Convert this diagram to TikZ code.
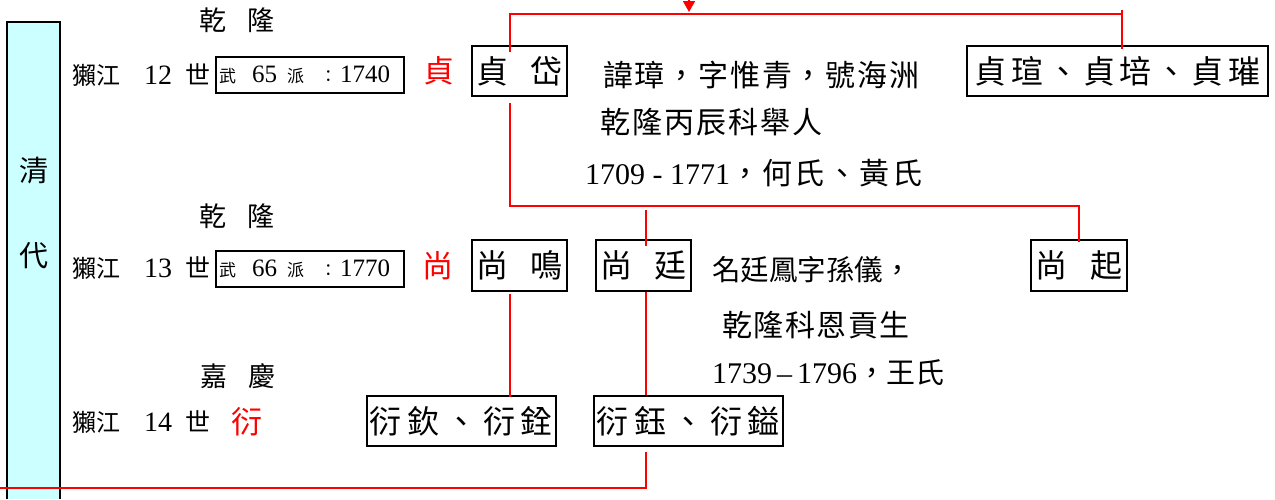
\documentclass[tikz,border=0pt]{standalone}
\usepackage{fontspec}
\setmainfont{Liberation Serif}
\newfontfamily\cjk{Noto Sans CJK TC}
\usetikzlibrary{arrows.meta,calc}
\newcommand{\myfs}[1]{\fontsize{#1}{#1}\selectfont}
\newcommand{\genlabel}[1]{{\cjk\myfs{24}獺江}\hspace{24pt}{\myfs{28}#1}\hspace{13pt}{\cjk\myfs{25}世}}
\newcommand{\paibox}[2]{\makebox[184pt][l]{\hspace{1pt}{\cjk\myfs{17}武}\hspace{16pt}{\myfs{25}#1}\hspace{10pt}{\cjk\myfs{17}派}\hspace{16pt}{\cjk\myfs{17}：}\hspace{3pt}{\myfs{25}#2}}}
\definecolor{barfill}{HTML}{CCFFFF}
\begin{document}
\begin{tikzpicture}[x=1pt,y=-1pt,
  box/.style={draw=black, line width=2pt, inner sep=0pt, font=\cjk\myfs{32}},
  pbox/.style={draw=black, line width=2pt, inner sep=1pt, minimum width=188pt, minimum height=36pt},
  redch/.style={text=red, font=\cjk\myfs{31}, inner sep=0pt},
  era/.style={font=\cjk\myfs{27}, inner sep=0pt},
  lbl/.style={anchor=west, inner sep=0pt},
  bartext/.style={font=\cjk\myfs{29}, inner sep=0pt},
  rline/.style={draw=red, line width=1.8pt}]
\useasboundingbox (0,0) rectangle (1275,499);
% era bar
\fill[barfill] (7,499) -- (7,22) -- (60,22) -- (60,499) -- cycle;
\draw[line width=2pt] (7,499) -- (7,22) -- (60,22) -- (60,499);
\node[bartext] (qing) at (34,171) {清};
\node[bartext] (dai) at (34,256) {代};
% era names
\node[era] (e1) at (237,20) {乾\hspace{22pt}隆};
\node[era] (e2) at (237,216) {乾\hspace{22pt}隆};
\node[era] (e3) at (238,376) {嘉\hspace{22pt}慶};
% generation labels
\node[lbl] (g12) at (72,75) {\genlabel{12}};
\node[lbl] (g13) at (72,268) {\genlabel{13}};
\node[lbl] (g14) at (72,422) {\genlabel{14}};
\node[pbox] (p65) at (310,75) {\paibox{65}{1740}};
\node[pbox] (p66) at (310,269) {\paibox{66}{1770}};
% red generation characters
\node[redch] (rz) at (439,71) {貞};
\node[redch] (rs) at (438,266) {尚};
\node[redch] (ry) at (247,422) {衍};
% person boxes
\node[box, minimum width=95pt, minimum height=50pt] (zd) at (519.5,71) {貞\hspace{0.7em}岱};
\node[box, minimum width=301pt, minimum height=50pt] (zx) at (1117.5,71) {\addfontfeature{LetterSpace=13}貞瑄、貞培、貞璀};
\node[box, minimum width=95pt, minimum height=51pt] (sm) at (519.5,265.5) {尚\hspace{0.7em}鳴};
\node[box, minimum width=95pt, minimum height=51pt] (st) at (643.5,265.5) {尚\hspace{0.7em}廷};
\node[box, minimum width=96pt, minimum height=51pt] (sq) at (1079,265.5) {尚\hspace{0.7em}起};
\node[box, minimum width=189pt, minimum height=50pt] (yq) at (461.5,421) {\addfontfeature{LetterSpace=18}衍欽、衍銓};
\node[box, minimum width=189pt, minimum height=50pt] (yy) at (688.5,421) {\addfontfeature{LetterSpace=18}衍鈺、衍鎰};
% notes
\node[lbl] (n1) at (603,75) {\cjk\myfs{30}\addfontfeature{LetterSpace=6}諱璋，字惟青，號海洲};
\node[lbl] (n2) at (600,122) {\cjk\myfs{30}\addfontfeature{LetterSpace=7}乾隆丙辰科舉人};
\node[lbl] (n3) at (585,173) {{\myfs{30}1709 - 1771}{\cjk\myfs{30}\addfontfeature{LetterSpace=8}，何氏、黃氏}};
\node[lbl] (n4) at (712,270) {\cjk\myfs{28.5}名廷鳳字孫儀，};
\node[lbl] (n5) at (722,325) {\cjk\myfs{30}\addfontfeature{LetterSpace=5}乾隆科恩貢生};
\node[lbl] (n6) at (712,373) {{\myfs{30}1739\,–\,1796}{\cjk\myfs{29}，王氏}};
% connector coordinates
\coordinate (atop) at (689,0);
\coordinate (ahit) at (689,12);
\coordinate (c1) at (510,14);
\coordinate (c2) at (1122,14);
\coordinate (c2t) at (1122,10);
\coordinate (m1) at (510,206);
\coordinate (m2) at (1079,206);
\coordinate (m3) at (646,206);
\coordinate (b1) at (646,488);
\coordinate (b0) at (0,488);
% connectors
\draw[rline, -{Triangle[length=11pt,width=12pt]}] (atop) -- (ahit);
\draw[rline] ($(zd.north -| c1)+(0,7)$) -- (c1) -- (c2);
\draw[rline] (c2t) -- ($(zx.north -| c2)+(0,4)$);
\draw[rline] ($(zd.south -| m1)+(0,6)$) -- (m1) -- (m2) -- ($(sq.north -| m2)+(0,3)$);
\draw[rline] ($(m3)+(0,4)$) -- ($(st.north -| m3)+(0,7)$);
\draw[rline] ($(sm.south -| m1)+(0,2)$) -- ($(yq.north -| m1)+(0,2)$);
\draw[rline] (st.south -| m3) -- (yy.north -| m3);
\draw[rline] ($(yy.south -| m3)+(0,5)$) -- (b1) -- (b0);
\end{tikzpicture}
\end{document}
